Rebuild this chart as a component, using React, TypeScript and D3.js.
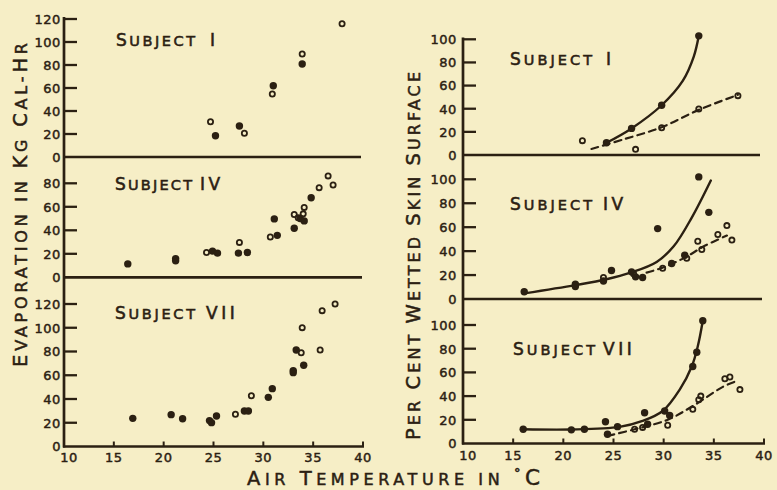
import React from 'react';
import * as d3 from 'd3';

const INK = '#2b2012';
const BG = '#f6eec6';
const FONT = '"DejaVu Sans", Verdana, sans-serif';

// ---- tick values ----
const tempTicks = [10, 15, 20, 25, 30, 35, 40];
const evapTicksTop = [0, 20, 40, 60, 80, 100, 120];
const evapTicksMid = [0, 20, 40, 60, 80];
const evapTicksBot = [0, 20, 40, 60, 80, 100, 120];
const wetTicks = [0, 20, 40, 60, 80, 100];

// ---- Evaporation (kg cal/hr) vs air temperature (°C) ----
const evapI_filled = [[25.2, 18.5], [27.6, 27], [31.0, 62], [33.9, 80.9]];
const evapI_open = [[24.7, 30.7], [28.1, 20.6], [30.9, 54.8], [33.9, 89.6], [37.9, 115.9]];

const evapIV_filled = [[16.4, 11.4], [21.2, 15.9], [21.2, 14], [24.9, 22.3], [25.4, 20.6], [27.5, 20.6], [28.4, 21.1], [31.1, 49.7], [31.4, 35.7], [33.1, 41.7], [33.7, 50], [34.1, 48], [34.8, 67.7]];
const evapIV_open = [[24.3, 21.1], [27.6, 29.7], [30.7, 34.3], [33.1, 53.4], [33.5, 50.6], [34.0, 54], [34.1, 59.5], [35.6, 76.3], [36.5, 86.3], [37.0, 78.6]];

const evapVII_filled = [[16.9, 23.7], [20.75, 26.8], [21.9, 23.4], [24.6, 21.8], [24.8, 20.1], [25.3, 25.7], [28.1, 29.9], [28.5, 29.9], [30.5, 41.4], [30.9, 48.7], [33.0, 63.9], [33.0, 62.2], [33.3, 81.3], [34.05, 68.4]];
const evapVII_open = [[27.2, 27.1], [28.8, 42.8], [33.8, 79], [33.9, 100.1], [35.7, 81.3], [35.9, 114.4], [37.2, 120]];

// ---- Per cent wetted skin surface vs air temperature ----
const wetI_filled = [[24.3, 10.6], [26.8, 23], [29.8, 43], [33.5, 103]];
const wetI_open = [[21.9, 12.4], [27.2, 4.9], [29.8, 23.6], [33.5, 39.8], [37.4, 51.3]];
const wetI_solid = [[24.3, 10.6], [26.8, 23], [29.8, 43], [31.9, 64], [33.0, 85], [33.5, 103]];
const wetI_dashed = [[22.8, 5.2], [26, 13.5], [29.8, 24], [33.5, 39], [37.4, 52]];

const wetIV_filled = [[16.1, 6], [21.2, 12.4], [21.2, 10.5], [24.0, 15], [24.8, 23.8], [26.8, 22.7], [27.2, 18.5], [27.9, 18], [29.4, 58.8], [30.8, 29.6], [32.1, 36.5], [33.5, 102], [34.5, 72.4]];
const wetIV_open = [[24.0, 18], [27.0, 21], [29.9, 25.7], [32.3, 34], [33.4, 48.3], [33.8, 41.4], [35.4, 53.9], [36.3, 61.3], [36.8, 49.2]];
const wetIV_solid = [[16.1, 4.7], [21.2, 11.6], [24.3, 16.5], [26.7, 22], [29.3, 31], [31.0, 44], [32.8, 68], [34.7, 99]];
const wetIV_dashed = [[28.3, 22], [30, 26.5], [32.2, 35], [34, 44], [36.3, 53]];

const wetVII_filled = [[16.0, 12], [20.8, 11.5], [22.1, 12], [24.2, 18.4], [24.4, 7.8], [25.4, 14.2], [28.1, 26], [28.4, 16.2], [30.1, 27.4], [30.6, 23.7], [32.9, 65], [33.3, 77], [33.9, 103.6]];
const wetVII_open = [[27.1, 12], [27.9, 13.6], [30.4, 15.4], [32.9, 28.8], [33.5, 37], [33.7, 40], [36.1, 54.7], [36.6, 56.1], [37.6, 45.5]];
const wetVII_solid = [[16.0, 12], [20.8, 11.8], [25.6, 14], [27.9, 19], [29.9, 27.4], [31.6, 45.5], [32.8, 65], [33.4, 82], [33.9, 103.6]];
const wetVII_dashed = [[24.4, 6.4], [27.1, 12], [30.4, 20], [32.9, 31.6], [35.9, 47.8], [37.2, 52.5]];

// ---- scales ----
const xL = d3.scaleLinear().domain([10, 40]).range([64, 363]);
const xR = d3.scaleLinear().domain([10, 40]).range([463, 764]);
const yLTop = d3.scaleLinear().domain([0, 120]).range([157, 19]);
const yLMid = d3.scaleLinear().domain([0, 80]).range([277.3, 183.3]);
const yLBot = d3.scaleLinear().domain([0, 120]).range([446.5, 304]);
const yRTop = d3.scaleLinear().domain([0, 100]).range([155, 39.3]);
const yRMid = d3.scaleLinear().domain([0, 100]).range([299, 179.3]);
const yRBot = d3.scaleLinear().domain([0, 100]).range([443.5, 325]);

type Pt = number[];
type Sc = d3.ScaleLinear<number, number>;

function Dots({ data, x, y, filled }: { data: Pt[]; x: Sc; y: Sc; filled: boolean }) {
  return (
    <g>
      {data.map(([t, v], i) =>
        filled ? (
          <circle key={i} cx={x(t)} cy={y(v)} r={3.7} fill={INK} />
        ) : (
          <circle key={i} cx={x(t)} cy={y(v)} r={2.6} fill="none" stroke={INK} strokeWidth={1.8} />
        )
      )}
    </g>
  );
}

function Curve({ data, x, y, dashed }: { data: Pt[]; x: Sc; y: Sc; dashed?: boolean }) {
  const gen = d3
    .line<Pt>()
    .x((d) => x(d[0]))
    .y((d) => y(d[1]))
    .curve(d3.curveCatmullRom.alpha(0.5));
  return (
    <path
      d={gen(data) || ''}
      fill="none"
      stroke={INK}
      strokeWidth={dashed ? 2.2 : 2.4}
      strokeDasharray={dashed ? '7,5' : undefined}
      strokeLinecap="round"
    />
  );
}

const tickText = {
  fontFamily: FONT,
  fontSize: 13,
  letterSpacing: 0.6,
  fill: INK,
  stroke: INK,
  strokeWidth: 0.45,
};

function YTicks({ ticks, y, axisX, labelX }: { ticks: number[]; y: Sc; axisX: number; labelX: number }) {
  return (
    <g>
      {ticks.map((t) => (
        <g key={t}>
          {t !== 0 && (
            <line x1={axisX} x2={axisX + 13} y1={y(t)} y2={y(t)} stroke={INK} strokeWidth={2.3} />
          )}
          <text x={labelX} y={y(t)} dy="0.37em" textAnchor="end" {...tickText}>
            {t}
          </text>
        </g>
      ))}
    </g>
  );
}

function XAxis({ x, y0, labelY }: { x: Sc; y0: number; labelY: number }) {
  return (
    <g>
      <line x1={x(10) - 1} x2={x(40) + 1} y1={y0} y2={y0} stroke={INK} strokeWidth={2.7} />
      {tempTicks.map((t, i) => (
        <g key={t}>
          {i > 0 && <line x1={x(t)} x2={x(t)} y1={y0} y2={y0 - 5} stroke={INK} strokeWidth={2} />}
          <text x={x(t) + (i === 0 ? 5 : 0)} y={labelY} textAnchor="middle" {...tickText}>
            {t}
          </text>
        </g>
      ))}
    </g>
  );
}

function Subject({ x, y, numeral, numX, len }: { x: number; y: number; numeral: string; numX: number; len: number }) {
  return (
    <g fill={INK} stroke={INK} strokeWidth={0.55} fontFamily={FONT}>
      <text x={x} y={y} textLength={len} lengthAdjust="spacing">
        <tspan fontSize={17}>S</tspan>
        <tspan fontSize={14.5}>UBJECT</tspan>
      </text>
      <text x={numX} y={y} fontSize={17} letterSpacing={3.5}>
        {numeral}
      </text>
    </g>
  );
}

function BaseLine({ x, y0, x2 }: { x: Sc; y0: number; x2: number }) {
  return <line x1={x(10) - 1} x2={x2} y1={y0} y2={y0} stroke={INK} strokeWidth={2.7} />;
}

export default function App() {
  const big = 19.5;
  const sm = 16;
  const titleStyle = { fontFamily: FONT, fill: INK, stroke: INK, strokeWidth: 0.5 };
  return (
    <svg
      width={777}
      height={490}
      viewBox="0 0 777 490"
      style={{ position: 'absolute', left: 0, top: 0, display: 'block' }}
    >
      <rect x={0} y={0} width={777} height={490} fill={BG} />

      {/* ---------------- LEFT: evaporation ---------------- */}
      <line x1={xL(10)} x2={xL(10)} y1={17} y2={447.5} stroke={INK} strokeWidth={2.7} />
      <BaseLine x={xL} y0={yLTop(0)} x2={361} />
      <BaseLine x={xL} y0={yLMid(0)} x2={362} />
      <XAxis x={xL} y0={yLBot(0)} labelY={462} />
      <YTicks ticks={evapTicksTop} y={yLTop} axisX={xL(10)} labelX={61} />
      <YTicks ticks={evapTicksMid} y={yLMid} axisX={xL(10)} labelX={61} />
      <YTicks ticks={evapTicksBot} y={yLBot} axisX={xL(10)} labelX={61} />

      <Subject x={116} y={46} numeral="I" numX={210} len={79} />
      <Subject x={115} y={190} numeral="IV" numX={200} len={77} />
      <Subject x={115} y={319} numeral="VII" numX={206} len={80} />

      <Dots data={evapI_filled} x={xL} y={yLTop} filled />
      <Dots data={evapI_open} x={xL} y={yLTop} filled={false} />
      <Dots data={evapIV_filled} x={xL} y={yLMid} filled />
      <Dots data={evapIV_open} x={xL} y={yLMid} filled={false} />
      <Dots data={evapVII_filled} x={xL} y={yLBot} filled />
      <Dots data={evapVII_open} x={xL} y={yLBot} filled={false} />

      {/* ---------------- RIGHT: wetted skin ---------------- */}
      <line x1={xR(10)} x2={xR(10)} y1={37.5} y2={444.5} stroke={INK} strokeWidth={2.7} />
      <BaseLine x={xR} y0={yRTop(0)} x2={760} />
      <BaseLine x={xR} y0={yRMid(0)} x2={762} />
      <XAxis x={xR} y0={yRBot(0)} labelY={459.5} />
      <YTicks ticks={wetTicks} y={yRTop} axisX={xR(10)} labelX={457} />
      <YTicks ticks={wetTicks} y={yRMid} axisX={xR(10)} labelX={457} />
      <YTicks ticks={wetTicks} y={yRBot} axisX={xR(10)} labelX={457} />

      <Subject x={510} y={65} numeral="I" numX={606} len={82} />
      <Subject x={510} y={210} numeral="IV" numX={603} len={82} />
      <Subject x={513} y={355} numeral="VII" numX={603} len={82} />

      <Curve data={wetI_solid} x={xR} y={yRTop} />
      <Curve data={wetI_dashed} x={xR} y={yRTop} dashed />
      <Dots data={wetI_filled} x={xR} y={yRTop} filled />
      <Dots data={wetI_open} x={xR} y={yRTop} filled={false} />

      <Curve data={wetIV_solid} x={xR} y={yRMid} />
      <Curve data={wetIV_dashed} x={xR} y={yRMid} dashed />
      <Dots data={wetIV_filled} x={xR} y={yRMid} filled />
      <Dots data={wetIV_open} x={xR} y={yRMid} filled={false} />

      <Curve data={wetVII_solid} x={xR} y={yRBot} />
      <Curve data={wetVII_dashed} x={xR} y={yRBot} dashed />
      <Dots data={wetVII_filled} x={xR} y={yRBot} filled />
      <Dots data={wetVII_open} x={xR} y={yRBot} filled={false} />

      {/* ---------------- axis titles ---------------- */}
      <text
        transform="translate(27,205) rotate(-90)"
        textAnchor="middle"
        textLength={324}
        lengthAdjust="spacing"
        {...titleStyle}
      >
        <tspan fontSize={big}>E</tspan>
        <tspan fontSize={sm}>VAPORATION IN </tspan>
        <tspan fontSize={big}>K</tspan>
        <tspan fontSize={sm}>G </tspan>
        <tspan fontSize={big}>C</tspan>
        <tspan fontSize={sm}>AL-</tspan>
        <tspan fontSize={big}>H</tspan>
        <tspan fontSize={sm}>R</tspan>
      </text>

      <text
        transform="translate(420,256) rotate(-90)"
        textAnchor="middle"
        textLength={368}
        lengthAdjust="spacing"
        {...titleStyle}
      >
        <tspan fontSize={big}>P</tspan>
        <tspan fontSize={sm}>ER </tspan>
        <tspan fontSize={big}>C</tspan>
        <tspan fontSize={sm}>ENT </tspan>
        <tspan fontSize={big}>W</tspan>
        <tspan fontSize={sm}>ETTED </tspan>
        <tspan fontSize={big}>S</tspan>
        <tspan fontSize={sm}>KIN </tspan>
        <tspan fontSize={big}>S</tspan>
        <tspan fontSize={sm}>URFACE</tspan>
      </text>

      <text x={247} y={485} textLength={293} lengthAdjust="spacing" {...titleStyle}>
        <tspan fontSize={big}>A</tspan>
        <tspan fontSize={sm}>IR </tspan>
        <tspan fontSize={big}>T</tspan>
        <tspan fontSize={sm}>EMPERATURE IN </tspan>
        <tspan fontSize={13} dy={-8}>°</tspan>
        <tspan fontSize={big + 2} dy={8}>C</tspan>
      </text>
    </svg>
  );
}
